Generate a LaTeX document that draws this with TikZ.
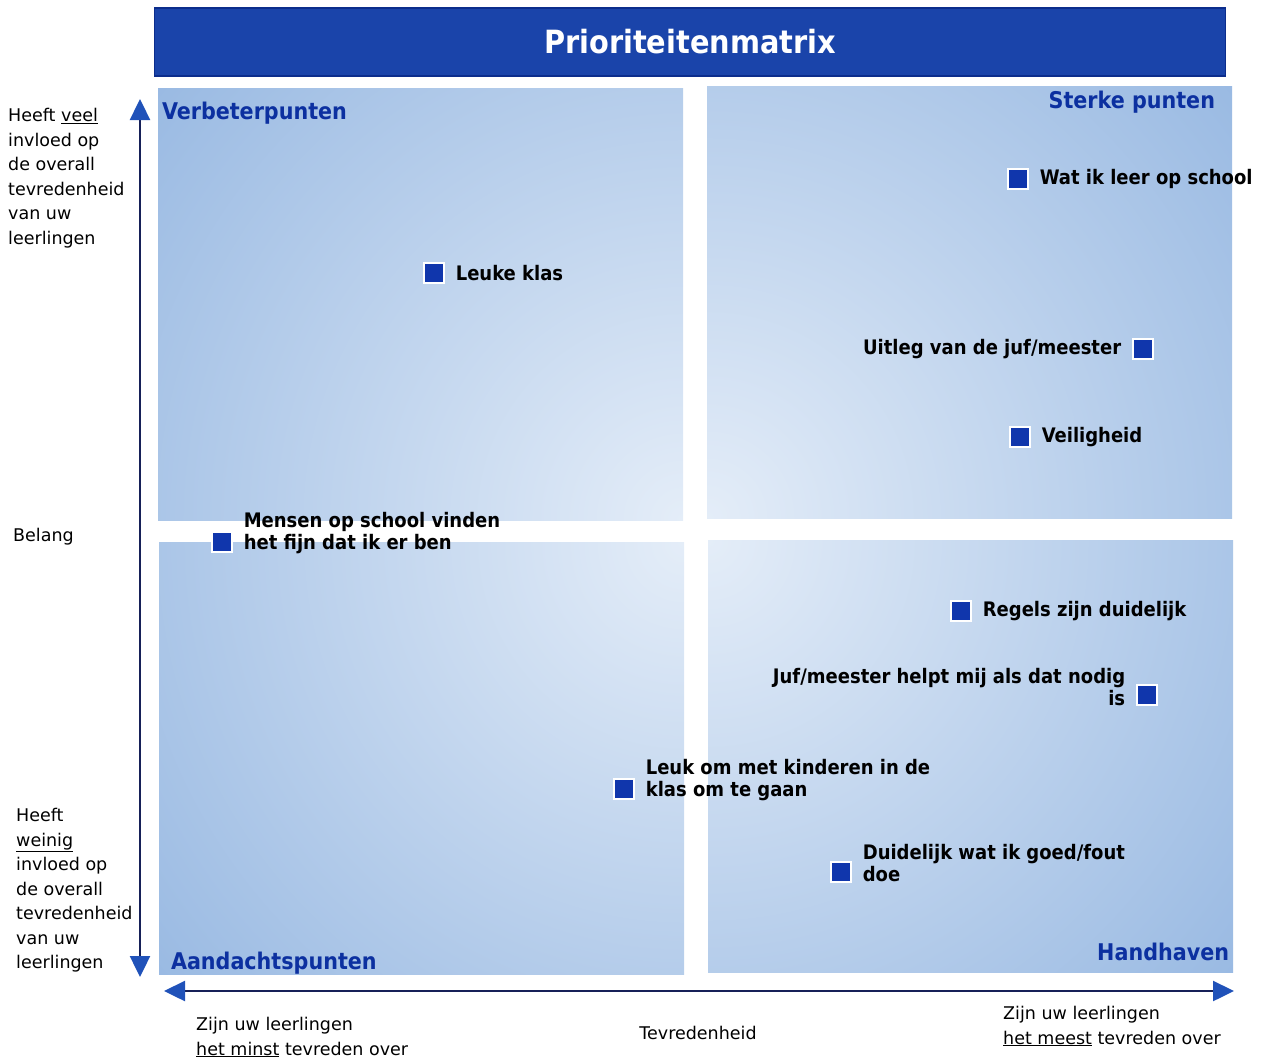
\documentclass[tikz,border=0pt]{standalone}
\usepackage{fontspec}
\setmainfont{DejaVu Sans}
\newfontfamily\condfont{DejaVu Sans Condensed}
\usetikzlibrary{arrows.meta,positioning}

\definecolor{titleblue}{RGB}{26,68,170}
\definecolor{titleedge}{RGB}{12,45,140}
\definecolor{quadblue}{RGB}{145,180,224}
\definecolor{quadlight}{RGB}{228,237,248}
\definecolor{labelblue}{RGB}{12,48,160}
\definecolor{dotblue}{RGB}{16,54,172}
\definecolor{axisnavy}{RGB}{22,32,88}
\definecolor{tipblue}{RGB}{32,82,185}

\begin{document}
\begin{tikzpicture}[x=1pt, y=-1pt, font=\fontsize{17.5}{24.5}\selectfont,
titlebar/.style={rectangle, draw=titleedge, line width=1.2pt, fill=titleblue, text=white, font=\condfont\bfseries\fontsize{32}{36}\selectfont, minimum width=1071pt, minimum height=68pt},
quad/.style={rectangle, inner sep=0pt, minimum width=525pt, minimum height=432pt, path picture={\shade[inner color=quadlight, outer color=quadblue] (path picture bounding box.#1) circle[radius=760pt];}},
quadlabel/.style={text=labelblue, font=\condfont\bfseries\fontsize{23}{26}\selectfont, inner sep=0pt},
item/.style={rectangle, fill=dotblue, draw=white, line width=1.2pt, minimum size=20pt, inner sep=0pt},
itemtext/.style={font=\condfont\bfseries\fontsize{20}{22}\selectfont, inner sep=1pt, align=left},
axistext/.style={inner sep=0pt, align=left},
axis/.style={draw=axisnavy, line width=2.4pt, {Triangle[length=21pt, width=20pt, color=tipblue]}-{Triangle[length=21pt, width=20pt, color=tipblue]}}]

\useasboundingbox (0,0) rectangle (1266,1061);

% Title
\node[titlebar] (title) at (690,42) {Prioriteitenmatrix};

% Quadrants
\node[quad=south east] (tl) at (420.5,304) {};
\node[quad=south west] (tr) at (969.5,302) {};
\node[quad=north east] (bl) at (421.5,758) {};
\node[quad=north west] (br) at (970.5,756) {};

\node[quadlabel, anchor=west] (verb) at ([shift={(4,25)}]tl.north west) {Verbeterpunten};
\node[quadlabel, anchor=east] (sterk) at ([shift={(-17,16)}]tr.north east) {Sterke punten};
\node[quadlabel, anchor=west] (aand) at ([shift={(12,-11)}]bl.south west) {Aandachtspunten};
\node[quadlabel, anchor=east] (handh) at ([shift={(-4,-20)}]br.south east) {Handhaven};

% Items
\node[item] (leuke) at (434,273) {};
\node[itemtext, right=10pt of leuke] (leuketext) {Leuke klas};

\node[item] (watik) at (1018,179) {};
\node[itemtext, right=10pt of watik] (watiktext) {Wat ik leer op school};

\node[item] (uitleg) at (1143,349) {};
\node[itemtext, left=10pt of uitleg] (uitlegtext) {Uitleg van de juf/meester};

\node[item] (veilig) at (1020,437) {};
\node[itemtext, right=10pt of veilig] (veiligtext) {Veiligheid};

\node[item] (mensen) at (222,542) {};
\node[itemtext, right=10pt of mensen, yshift=9pt] (mensentext) {Mensen op school vinden\\het fijn dat ik er ben};

\node[item] (regels) at (961,611) {};
\node[itemtext, right=10pt of regels] (regelstext) {Regels zijn duidelijk};

\node[item] (helpt) at (1147,695) {};
\node[itemtext, align=right, left=10pt of helpt, yshift=8pt] (helpttext) {Juf/meester helpt mij als dat nodig\\is};

\node[item] (kinderen) at (624,789) {};
\node[itemtext, right=10pt of kinderen, yshift=9pt] (kinderentext) {Leuk om met kinderen in de\\klas om te gaan};

\node[item] (goedfout) at (841,872) {};
\node[itemtext, right=10pt of goedfout, yshift=9pt] (goedfouttext) {Duidelijk wat ik goed/fout\\doe};

% Axes
\coordinate (vtop) at (140,99);
\coordinate (vbot) at (140,977);
\coordinate (hleft) at (164,991);
\coordinate (hright) at (1234,991);
\draw[axis] (vbot) -- (vtop);
\draw[axis] (hleft) -- (hright);

% Axis texts
\node[axistext, anchor=north west] (veel) at (8,108) {Heeft \underline{veel}\\invloed op\\de overall\\tevredenheid\\van uw\\leerlingen};
\node[axistext, anchor=west] (belang) at (13,537) {Belang};
\node[axistext, anchor=north west] (weinig) at (16,808) {Heeft\\\underline{weinig}\\invloed op\\de overall\\tevredenheid\\van uw\\leerlingen};
\node[axistext, anchor=north west] (minst) at (196,1017) {Zijn uw leerlingen\\\underline{het minst} tevreden over};
\node[axistext] (tevr) at (698,1033) {Tevredenheid};
\node[axistext, anchor=north west] (meest) at (1003,1006) {Zijn uw leerlingen\\\underline{het meest} tevreden over};
\end{tikzpicture}
\end{document}
